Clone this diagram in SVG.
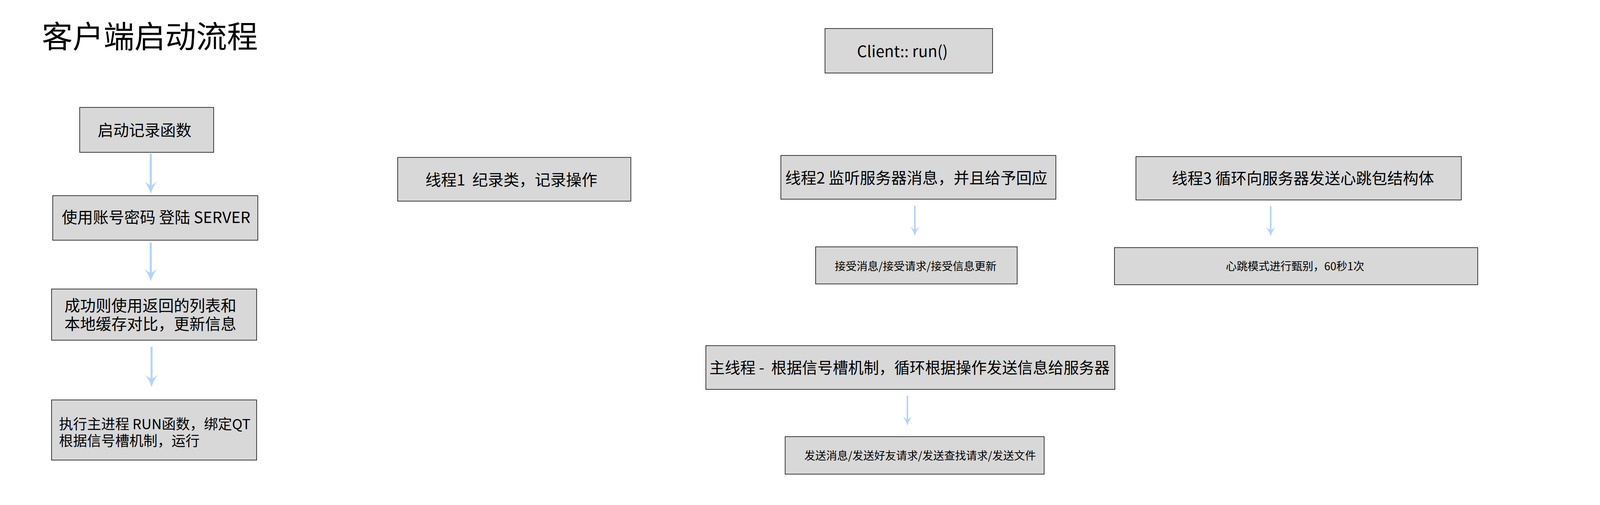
<svg xmlns="http://www.w3.org/2000/svg" width="4508" height="1293" viewBox="0 0 4508 1293">
<style>
  .box { fill: #d8d8d8; stroke: #000000; stroke-width: 1.5; }
  .t { font-family: "Noto Sans CJK SC", "Noto Sans", sans-serif; fill: #000000; white-space: pre; }
  .big { font-size: 40px; }
  .main { font-size: 39.4px; }
  .mid { font-size: 36px; }
  .small { font-size: 28px; }
  .title { font-size: 79px; }
  .conn { stroke: #b3d4fb; fill: none; marker-end: url(#ah); }
  .thick { stroke-width: 5.3; }
  .thin { stroke-width: 4; }
</style>
<defs>
  <marker id="ah" markerUnits="strokeWidth" orient="auto" overflow="visible" refX="0" refY="0" markerWidth="8" markerHeight="8">
    <path d="M2.5,0 Q-0.5,-0.8 -3.5,-3 Q-1.8,-1 -1.5,0 Q-1.8,1 -3.5,3 Q-0.5,0.8 2.5,0 Z" fill="#b3d4fb"/>
  </marker>
</defs>
<rect x="0" y="0" width="4508" height="1293" fill="#ffffff"/>

<g id="title">
  <text class="t title" x="107" y="123">客户端启动流程</text>
</g>

<g id="connectors">
  <line class="conn thick" x1="386" y1="393" x2="386" y2="483"/>
  <line class="conn thick" x1="386" y1="621" x2="386" y2="707"/>
  <line class="conn thick" x1="388" y1="888" x2="388" y2="978"/>
  <line class="conn thin" x1="2342" y1="527" x2="2342" y2="594"/>
  <line class="conn thin" x1="3253" y1="528" x2="3253" y2="595"/>
  <line class="conn thin" x1="2323" y1="1013" x2="2323" y2="1080"/>
</g>

<g id="node-start-log">
  <rect class="box" x="204" y="275" width="343" height="115"/>
  <text class="t big" x="250" y="348">启动记录函数</text>
</g>
<g id="node-login">
  <rect class="box" x="135" y="501" width="525" height="114"/>
  <text class="t big" x="158" y="571">使用账号密码 登陆 SERVER</text>
</g>
<g id="node-compare">
  <rect class="box" x="132" y="740" width="525" height="131"/>
  <text class="t big"><tspan x="165" y="797">成功则使用返回的列表和</tspan><tspan x="165" y="844">本地缓存对比，更新信息</tspan></text>
</g>
<g id="node-run">
  <rect class="box" x="132" y="1024" width="525" height="154"/>
  <text class="t mid"><tspan x="151" y="1099">执行主进程 RUN函数，绑定QT</tspan><tspan x="151" y="1142">根据信号槽机制，运行</tspan></text>
</g>

<g id="node-client-run">
  <rect class="box" x="2112" y="73" width="429" height="114"/>
  <text class="t big" x="2194" y="146">Client:: run()</text>
</g>
<g id="node-thread1">
  <rect class="box" x="1018" y="403" width="597" height="112"/>
  <text class="t big" x="1089" y="475" xml:space="preserve">线程1  纪录类，记录操作</text>
</g>
<g id="node-thread2">
  <rect class="box" x="1999" y="398" width="704" height="112"/>
  <text class="t big" x="2010" y="470">线程2 监听服务器消息，并且给予回应</text>
</g>
<g id="node-thread2-detail">
  <rect class="box" x="2088" y="632" width="516" height="95"/>
  <text class="t small" x="2137" y="692">接受消息/接受请求/接受信息更新</text>
</g>
<g id="node-thread3">
  <rect class="box" x="2908" y="401" width="833" height="111"/>
  <text class="t big" x="3000" y="471">线程3 循环向服务器发送心跳包结构体</text>
</g>
<g id="node-thread3-detail">
  <rect class="box" x="2853" y="634" width="930" height="95"/>
  <text class="t small" x="3138" y="692">心跳模式进行甄别，60秒1次</text>
</g>
<g id="node-main-thread">
  <rect class="box" x="1807" y="885" width="1047" height="112"/>
  <text class="t main" x="1816" y="956" xml:space="preserve">主线程 -  根据信号槽机制，循环根据操作发送信息给服务器</text>
</g>
<g id="node-main-detail">
  <rect class="box" x="2010" y="1118" width="663" height="96"/>
  <text class="t small" x="2059" y="1177">发送消息/发送好友请求/发送查找请求/发送文件</text>
</g>
</svg>
